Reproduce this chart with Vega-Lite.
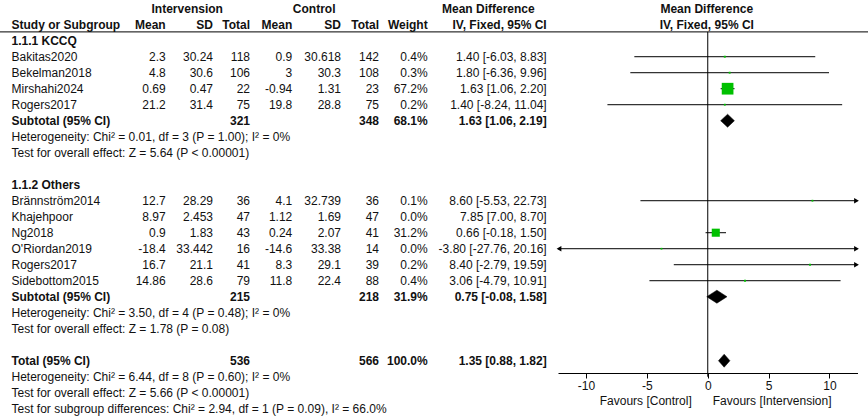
{
  "$schema": "https://vega.github.io/schema/vega-lite/v6.json",
  "width": 868,
  "height": 416,
  "padding": 0,
  "autosize": {"type": "none"},
  "background": "white",
  "config": {
    "view": {"stroke": null},
    "text": {"font": "Liberation Sans", "fontSize": 12, "color": "#111111"}
  },
  "datasets": {
    "rows": [
      {"row": 0, "kind": "header", "label": "Study or Subgroup", "im": "Mean", "isd": "SD", "it": "Total", "cm": "Mean", "csd": "SD", "ct": "Total", "wt": "Weight", "ci": "IV, Fixed, 95% CI"},
      {"row": 1, "kind": "group", "label": "1.1.1 KCCQ"},
      {"row": 2, "kind": "study", "label": "Bakitas2020", "im": 2.3, "isd": 30.24, "it": 118, "cm": 0.9, "csd": 30.618, "ct": 142, "w": 0.4, "wt": "0.4%", "md": 1.40, "lo": -6.03, "hi": 8.83, "ci": "1.40 [-6.03, 8.83]"},
      {"row": 3, "kind": "study", "label": "Bekelman2018", "im": 4.8, "isd": 30.6, "it": 106, "cm": 3, "csd": 30.3, "ct": 108, "w": 0.3, "wt": "0.3%", "md": 1.80, "lo": -6.36, "hi": 9.96, "ci": "1.80 [-6.36, 9.96]"},
      {"row": 4, "kind": "study", "label": "Mirshahi2024", "im": 0.69, "isd": 0.47, "it": 22, "cm": -0.94, "csd": 1.31, "ct": 23, "w": 67.2, "wt": "67.2%", "md": 1.63, "lo": 1.06, "hi": 2.20, "ci": "1.63 [1.06, 2.20]"},
      {"row": 5, "kind": "study", "label": "Rogers2017", "im": 21.2, "isd": 31.4, "it": 75, "cm": 19.8, "csd": 28.8, "ct": 75, "w": 0.2, "wt": "0.2%", "md": 1.40, "lo": -8.24, "hi": 11.04, "ci": "1.40 [-8.24, 11.04]"},
      {"row": 6, "kind": "subtotal", "label": "Subtotal (95% CI)", "it": 321, "ct": 348, "w": 68.1, "wt": "68.1%", "md": 1.63, "lo": 1.06, "hi": 2.19, "ci": "1.63 [1.06, 2.19]"},
      {"row": 7, "kind": "note", "label": "Heterogeneity: Chi² = 0.01, df = 3 (P = 1.00); I² = 0%"},
      {"row": 8, "kind": "note", "label": "Test for overall effect: Z = 5.64 (P < 0.00001)"},
      {"row": 10, "kind": "group", "label": "1.1.2 Others"},
      {"row": 11, "kind": "study", "label": "Brännström2014", "im": 12.7, "isd": 28.29, "it": 36, "cm": 4.1, "csd": 32.739, "ct": 36, "w": 0.1, "wt": "0.1%", "md": 8.60, "lo": -5.53, "hi": 22.73, "ci": "8.60 [-5.53, 22.73]"},
      {"row": 12, "kind": "study", "label": "Khajehpoor", "im": 8.97, "isd": 2.453, "it": 47, "cm": 1.12, "csd": 1.69, "ct": 47, "w": 0.0, "wt": "0.0%", "ci": "7.85 [7.00, 8.70]"},
      {"row": 13, "kind": "study", "label": "Ng2018", "im": 0.9, "isd": 1.83, "it": 43, "cm": 0.24, "csd": 2.07, "ct": 41, "w": 31.2, "wt": "31.2%", "md": 0.66, "lo": -0.18, "hi": 1.50, "ci": "0.66 [-0.18, 1.50]"},
      {"row": 14, "kind": "study", "label": "O'Riordan2019", "im": -18.4, "isd": 33.442, "it": 16, "cm": -14.6, "csd": 33.38, "ct": 14, "w": 0.0, "wt": "0.0%", "md": -3.80, "lo": -27.76, "hi": 20.16, "ci": "-3.80 [-27.76, 20.16]"},
      {"row": 15, "kind": "study", "label": "Rogers2017", "im": 16.7, "isd": 21.1, "it": 41, "cm": 8.3, "csd": 29.1, "ct": 39, "w": 0.2, "wt": "0.2%", "md": 8.40, "lo": -2.79, "hi": 19.59, "ci": "8.40 [-2.79, 19.59]"},
      {"row": 16, "kind": "study", "label": "Sidebottom2015", "im": 14.86, "isd": 28.6, "it": 79, "cm": 11.8, "csd": 22.4, "ct": 88, "w": 0.4, "wt": "0.4%", "md": 3.06, "lo": -4.79, "hi": 10.91, "ci": "3.06 [-4.79, 10.91]"},
      {"row": 17, "kind": "subtotal", "label": "Subtotal (95% CI)", "it": 215, "ct": 218, "w": 31.9, "wt": "31.9%", "md": 0.75, "lo": -0.08, "hi": 1.58, "ci": "0.75 [-0.08, 1.58]"},
      {"row": 18, "kind": "note", "label": "Heterogeneity: Chi² = 3.50, df = 4 (P = 0.48); I² = 0%"},
      {"row": 19, "kind": "note", "label": "Test for overall effect: Z = 1.78 (P = 0.08)"},
      {"row": 21, "kind": "total", "label": "Total (95% CI)", "it": 536, "ct": 566, "w": 100.0, "wt": "100.0%", "md": 1.35, "lo": 0.88, "hi": 1.82, "ci": "1.35 [0.88, 1.82]"},
      {"row": 22, "kind": "note", "label": "Heterogeneity: Chi² = 6.44, df = 8 (P = 0.60); I² = 0%"},
      {"row": 23, "kind": "note", "label": "Test for overall effect: Z = 5.66 (P < 0.00001)"},
      {"row": 24, "kind": "note", "label": "Test for subgroup differences: Chi² = 2.94, df = 1 (P = 0.09), I² = 66.0%"}
    ]
  },
  "data": {"name": "rows"},
  "layer": [
    {
      "transform": [{"filter": "datum.kind == 'header'"}],
      "mark": {"type": "rule", "color": "#000000", "strokeWidth": 1},
      "encoding": {"y": {"datum": 0.45, "type": "quantitative", "scale": {"domain": [-1.544, 24.456], "reverse": true, "nice": false, "zero": false}, "axis": null}}
    },
    {
      "transform": [{"filter": "datum.kind == 'header'"}],
      "mark": {"type": "rule", "color": "#000000", "strokeWidth": 1},
      "encoding": {
        "x": {"datum": 0, "type": "quantitative", "scale": {"domain": [-12.3, 12.3], "range": [558, 857.5], "clamp": true, "nice": false, "zero": false}, "axis": {"title": null, "values": [-10, -5, 0, 5, 10], "grid": false, "offset": -43, "domainColor": "#000000", "tickColor": "#000000", "tickSize": 5, "labelFont": "Liberation Sans", "labelFontSize": 12, "labelColor": "#111111", "labelPadding": 2.5, "labelExpr": "'' + datum.value"}},
        "y": {"datum": 0.45, "type": "quantitative", "axis": null},
        "y2": {"datum": 22}
      }
    },
    {
      "transform": [{"filter": "datum.kind == 'study' && isValid(datum.lo)"}],
      "mark": {"type": "rule", "color": "#000000", "strokeWidth": 1},
      "encoding": {
        "x": {"field": "lo", "type": "quantitative", "scale": {"domain": [-12.3, 12.3], "range": [558, 857.5], "clamp": true, "nice": false, "zero": false}, "axis": {"title": null, "values": [-10, -5, 0, 5, 10], "grid": false, "offset": -43, "domainColor": "#000000", "tickColor": "#000000", "tickSize": 5, "labelFont": "Liberation Sans", "labelFontSize": 12, "labelColor": "#111111", "labelPadding": 2.5, "labelExpr": "'' + datum.value"}},
        "x2": {"field": "hi"},
        "y": {"field": "row", "type": "quantitative", "axis": null}
      }
    },
    {
      "transform": [{"filter": "datum.kind == 'study' && isValid(datum.md)"}],
      "mark": {"type": "point", "shape": "square", "filled": true, "color": "#00c000", "opacity": 1},
      "encoding": {
        "x": {"field": "md", "type": "quantitative", "scale": {"domain": [-12.3, 12.3], "range": [558, 857.5], "clamp": true, "nice": false, "zero": false}, "axis": {"title": null, "values": [-10, -5, 0, 5, 10], "grid": false, "offset": -43, "domainColor": "#000000", "tickColor": "#000000", "tickSize": 5, "labelFont": "Liberation Sans", "labelFontSize": 12, "labelColor": "#111111", "labelPadding": 2.5, "labelExpr": "'' + datum.value"}},
        "y": {"field": "row", "type": "quantitative", "axis": null},
        "size": {"field": "w", "type": "quantitative", "scale": {"domain": [0, 67.2], "range": [3, 137]}, "legend": null}
      }
    },
    {
      "transform": [{"filter": "datum.kind == 'study' && isValid(datum.hi) && datum.hi > 12.3"}],
      "mark": {"type": "point", "shape": "triangle-right", "filled": true, "color": "#000000", "opacity": 1, "size": 30, "xOffset": -1},
      "encoding": {
        "x": {"field": "hi", "type": "quantitative", "scale": {"domain": [-12.3, 12.3], "range": [558, 857.5], "clamp": true, "nice": false, "zero": false}, "axis": {"title": null, "values": [-10, -5, 0, 5, 10], "grid": false, "offset": -43, "domainColor": "#000000", "tickColor": "#000000", "tickSize": 5, "labelFont": "Liberation Sans", "labelFontSize": 12, "labelColor": "#111111", "labelPadding": 2.5, "labelExpr": "'' + datum.value"}},
        "y": {"field": "row", "type": "quantitative", "axis": null}
      }
    },
    {
      "transform": [{"filter": "datum.kind == 'study' && isValid(datum.lo) && datum.lo < -12.3"}],
      "mark": {"type": "point", "shape": "triangle-left", "filled": true, "color": "#000000", "opacity": 1, "size": 30, "xOffset": 1},
      "encoding": {
        "x": {"field": "lo", "type": "quantitative", "scale": {"domain": [-12.3, 12.3], "range": [558, 857.5], "clamp": true, "nice": false, "zero": false}, "axis": {"title": null, "values": [-10, -5, 0, 5, 10], "grid": false, "offset": -43, "domainColor": "#000000", "tickColor": "#000000", "tickSize": 5, "labelFont": "Liberation Sans", "labelFontSize": 12, "labelColor": "#111111", "labelPadding": 2.5, "labelExpr": "'' + datum.value"}},
        "y": {"field": "row", "type": "quantitative", "axis": null}
      }
    },
    {
      "transform": [
        {"filter": "datum.kind == 'subtotal' || datum.kind == 'total'"},
        {"fold": ["lo", "md", "hi"], "as": ["k", "v"]}
      ],
      "mark": {"type": "area", "orient": "vertical", "color": "#000000", "stroke": "#000000", "strokeWidth": 0.5, "opacity": 1, "yOffset": {"expr": "datum.k == 'md' ? -6.5 : 0"}, "y2Offset": {"expr": "datum.k == 'md' ? 6.5 : 0"}},
      "encoding": {
        "x": {"field": "v", "type": "quantitative", "scale": {"domain": [-12.3, 12.3], "range": [558, 857.5], "clamp": true, "nice": false, "zero": false}, "axis": {"title": null, "values": [-10, -5, 0, 5, 10], "grid": false, "offset": -43, "domainColor": "#000000", "tickColor": "#000000", "tickSize": 5, "labelFont": "Liberation Sans", "labelFontSize": 12, "labelColor": "#111111", "labelPadding": 2.5, "labelExpr": "'' + datum.value"}},
        "y": {"field": "row", "type": "quantitative", "stack": null, "axis": null},
        "y2": {"field": "row"},
        "detail": {"field": "row", "type": "nominal"}
      }
    },
    {
      "transform": [{"filter": "isValid(datum.label)"}],
      "mark": {"type": "text", "align": "left", "baseline": "middle", "dy": 0.5, "fontWeight": {"expr": "indexof(['header','group','subtotal','total'], datum.kind) >= 0 ? 'bold' : 'normal'"}},
      "encoding": {"x": {"value": 11.5}, "y": {"field": "row", "type": "quantitative", "axis": null}, "text": {"field": "label", "type": "nominal"}}
    },
    {
      "transform": [{"filter": "isValid(datum.im)"}],
      "mark": {"type": "text", "align": "right", "baseline": "middle", "dy": 0.5, "fontWeight": {"expr": "indexof(['header','group','subtotal','total'], datum.kind) >= 0 ? 'bold' : 'normal'"}},
      "encoding": {"x": {"value": 165.7}, "y": {"field": "row", "type": "quantitative", "axis": null}, "text": {"field": "im", "type": "nominal"}}
    },
    {
      "transform": [{"filter": "isValid(datum.isd)"}],
      "mark": {"type": "text", "align": "right", "baseline": "middle", "dy": 0.5, "fontWeight": {"expr": "indexof(['header','group','subtotal','total'], datum.kind) >= 0 ? 'bold' : 'normal'"}},
      "encoding": {"x": {"value": 213}, "y": {"field": "row", "type": "quantitative", "axis": null}, "text": {"field": "isd", "type": "nominal"}}
    },
    {
      "transform": [{"filter": "isValid(datum.it)"}],
      "mark": {"type": "text", "align": "right", "baseline": "middle", "dy": 0.5, "fontWeight": {"expr": "indexof(['header','group','subtotal','total'], datum.kind) >= 0 ? 'bold' : 'normal'"}},
      "encoding": {"x": {"value": 250}, "y": {"field": "row", "type": "quantitative", "axis": null}, "text": {"field": "it", "type": "nominal"}}
    },
    {
      "transform": [{"filter": "isValid(datum.cm)"}],
      "mark": {"type": "text", "align": "right", "baseline": "middle", "dy": 0.5, "fontWeight": {"expr": "indexof(['header','group','subtotal','total'], datum.kind) >= 0 ? 'bold' : 'normal'"}},
      "encoding": {"x": {"value": 292.3}, "y": {"field": "row", "type": "quantitative", "axis": null}, "text": {"field": "cm", "type": "nominal"}}
    },
    {
      "transform": [{"filter": "isValid(datum.csd)"}],
      "mark": {"type": "text", "align": "right", "baseline": "middle", "dy": 0.5, "fontWeight": {"expr": "indexof(['header','group','subtotal','total'], datum.kind) >= 0 ? 'bold' : 'normal'"}},
      "encoding": {"x": {"value": 341}, "y": {"field": "row", "type": "quantitative", "axis": null}, "text": {"field": "csd", "type": "nominal"}}
    },
    {
      "transform": [{"filter": "isValid(datum.ct)"}],
      "mark": {"type": "text", "align": "right", "baseline": "middle", "dy": 0.5, "fontWeight": {"expr": "indexof(['header','group','subtotal','total'], datum.kind) >= 0 ? 'bold' : 'normal'"}},
      "encoding": {"x": {"value": 379}, "y": {"field": "row", "type": "quantitative", "axis": null}, "text": {"field": "ct", "type": "nominal"}}
    },
    {
      "transform": [{"filter": "isValid(datum.wt)"}],
      "mark": {"type": "text", "align": "right", "baseline": "middle", "dy": 0.5, "fontWeight": {"expr": "indexof(['header','group','subtotal','total'], datum.kind) >= 0 ? 'bold' : 'normal'"}},
      "encoding": {"x": {"value": 427.7}, "y": {"field": "row", "type": "quantitative", "axis": null}, "text": {"field": "wt", "type": "nominal"}}
    },
    {
      "transform": [{"filter": "isValid(datum.ci)"}],
      "mark": {"type": "text", "align": "right", "baseline": "middle", "dy": 0.5, "fontWeight": {"expr": "indexof(['header','group','subtotal','total'], datum.kind) >= 0 ? 'bold' : 'normal'"}},
      "encoding": {"x": {"value": 546.7}, "y": {"field": "row", "type": "quantitative", "axis": null}, "text": {"field": "ci", "type": "nominal"}}
    },
    {
      "data": {"values": [{"row": -1, "text": "Intervension"}]},
      "mark": {"type": "text", "align": "center", "baseline": "middle", "fontWeight": "bold"},
      "encoding": {"x": {"value": 187.2}, "y": {"field": "row", "type": "quantitative", "axis": null}, "text": {"field": "text", "type": "nominal"}}
    },
    {
      "data": {"values": [{"row": -1, "text": "Control"}]},
      "mark": {"type": "text", "align": "center", "baseline": "middle", "fontWeight": "bold"},
      "encoding": {"x": {"value": 314.2}, "y": {"field": "row", "type": "quantitative", "axis": null}, "text": {"field": "text", "type": "nominal"}}
    },
    {
      "data": {"values": [{"row": -1, "text": "Mean Difference"}]},
      "mark": {"type": "text", "align": "center", "baseline": "middle", "fontWeight": "bold"},
      "encoding": {"x": {"value": 488.3}, "y": {"field": "row", "type": "quantitative", "axis": null}, "text": {"field": "text", "type": "nominal"}}
    },
    {
      "data": {"values": [{"row": -1, "text": "Mean Difference"}, {"row": 0, "text": "IV, Fixed, 95% CI"}]},
      "mark": {"type": "text", "align": "center", "baseline": "middle", "fontWeight": "bold", "dx": -1},
      "encoding": {
        "x": {"datum": 0, "type": "quantitative", "scale": {"domain": [-12.3, 12.3], "range": [558, 857.5], "clamp": true, "nice": false, "zero": false}, "axis": {"title": null, "values": [-10, -5, 0, 5, 10], "grid": false, "offset": -43, "domainColor": "#000000", "tickColor": "#000000", "tickSize": 5, "labelFont": "Liberation Sans", "labelFontSize": 12, "labelColor": "#111111", "labelPadding": 2.5, "labelExpr": "'' + datum.value"}},
        "y": {"field": "row", "type": "quantitative", "axis": null},
        "text": {"field": "text", "type": "nominal"}
      }
    },
    {
      "data": {"values": [{"row": 23.5, "text": "Favours [Control]"}]},
      "mark": {"type": "text", "align": "right", "baseline": "middle", "dx": -16, "dy": 0.5},
      "encoding": {
        "x": {"datum": 0, "type": "quantitative", "scale": {"domain": [-12.3, 12.3], "range": [558, 857.5], "clamp": true, "nice": false, "zero": false}, "axis": {"title": null, "values": [-10, -5, 0, 5, 10], "grid": false, "offset": -43, "domainColor": "#000000", "tickColor": "#000000", "tickSize": 5, "labelFont": "Liberation Sans", "labelFontSize": 12, "labelColor": "#111111", "labelPadding": 2.5, "labelExpr": "'' + datum.value"}},
        "y": {"field": "row", "type": "quantitative", "axis": null},
        "text": {"field": "text", "type": "nominal"}
      }
    },
    {
      "data": {"values": [{"row": 23.5, "text": "Favours [Intervension]"}]},
      "mark": {"type": "text", "align": "left", "baseline": "middle", "dx": 5, "dy": 0.5},
      "encoding": {
        "x": {"datum": 0, "type": "quantitative", "scale": {"domain": [-12.3, 12.3], "range": [558, 857.5], "clamp": true, "nice": false, "zero": false}, "axis": {"title": null, "values": [-10, -5, 0, 5, 10], "grid": false, "offset": -43, "domainColor": "#000000", "tickColor": "#000000", "tickSize": 5, "labelFont": "Liberation Sans", "labelFontSize": 12, "labelColor": "#111111", "labelPadding": 2.5, "labelExpr": "'' + datum.value"}},
        "y": {"field": "row", "type": "quantitative", "axis": null},
        "text": {"field": "text", "type": "nominal"}
      }
    }
  ]
}
